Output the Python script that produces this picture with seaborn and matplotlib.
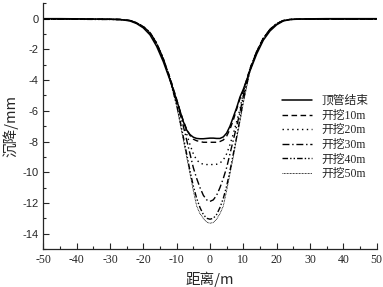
import matplotlib
matplotlib.use("Agg")
import matplotlib.pyplot as plt
import seaborn as sns
import numpy as np
from matplotlib.ticker import MultipleLocator

# distance from the pipe axis (m)
dist = [-50, -45, -40, -35, -30, -27, -24, -22, -20, -18, -16, -14, -12, -10,
        -9, -8, -7, -6, -5, -4, -3, -2, -1, 0, 1, 2, 3, 4, 5, 6, 7, 8, 9,
        10, 12, 14, 16, 18, 20, 22, 24, 27, 30, 35, 40, 45, 50]

# settlement (mm) for each stage
s_end = [0.0, 0.0, -0.01, -0.02, -0.03, -0.05, -0.15, -0.32, -0.6, -1.05, -1.8, -2.8, -4.0, -5.3,
         -6.0, -6.7, -7.25, -7.55, -7.72, -7.8, -7.82, -7.82, -7.8, -7.78, -7.78, -7.8, -7.8, -7.7, -7.45, -7.0, -6.4, -5.8, -5.1,
         -4.6, -3.4, -2.3, -1.4, -0.8, -0.4, -0.15, -0.06, -0.02, -0.01, 0.0, 0.0, 0.0, 0.0]
s_10 = [-0.02, -0.02, -0.02, -0.03, -0.04, -0.05, -0.12, -0.28, -0.55, -0.95, -1.65, -2.65, -3.85, -5.25,
        -6.0, -6.65, -7.2, -7.6, -7.85, -7.95, -8.0, -8.05, -8.05, -8.05, -8.05, -8.05, -8.0, -7.9, -7.65, -7.2, -6.6, -5.9, -5.2,
        -4.7, -3.25, -2.15, -1.28, -0.7, -0.33, -0.12, -0.05, -0.03, -0.02, -0.02, -0.02, -0.02, -0.02]
s_20 = [-0.03, -0.03, -0.03, -0.04, -0.05, -0.06, -0.12, -0.27, -0.52, -0.9, -1.6, -2.6, -3.85, -5.3,
        -6.0, -6.8, -7.5, -8.2, -8.8, -9.2, -9.4, -9.48, -9.5, -9.5, -9.5, -9.48, -9.4, -9.2, -8.8, -8.2, -7.5, -6.7, -5.9,
        -4.8, -3.25, -2.15, -1.28, -0.7, -0.33, -0.12, -0.05, -0.03, -0.03, -0.03, -0.03, -0.03, -0.03]
s_30 = [-0.03, -0.03, -0.03, -0.04, -0.05, -0.06, -0.12, -0.27, -0.52, -0.9, -1.6, -2.6, -3.9, -5.4,
        -6.2, -7.0, -7.9, -8.8, -9.7, -10.4, -11.0, -11.5, -11.8, -11.9, -11.8, -11.5, -11.0, -10.4, -9.7, -8.8, -7.9, -7.0, -6.1,
        -5.0, -3.3, -2.15, -1.28, -0.7, -0.33, -0.12, -0.05, -0.03, -0.03, -0.03, -0.03, -0.03, -0.03]
s_40 = [-0.04, -0.04, -0.04, -0.05, -0.05, -0.06, -0.12, -0.27, -0.52, -0.9, -1.6, -2.6, -3.95, -5.6,
        -6.6, -7.7, -8.8, -9.9, -10.9, -11.7, -12.3, -12.75, -13.0, -13.06, -13.0, -12.75, -12.3, -11.7, -10.9, -9.9, -8.8, -7.7, -6.5,
        -5.3, -3.35, -2.15, -1.28, -0.7, -0.33, -0.12, -0.05, -0.04, -0.04, -0.04, -0.04, -0.04, -0.04]
s_50 = [-0.05, -0.05, -0.05, -0.05, -0.06, -0.07, -0.12, -0.27, -0.52, -0.9, -1.6, -2.6, -4.0, -5.7,
        -6.8, -7.9, -9.0, -10.1, -11.2, -12.2, -12.7, -13.0, -13.25, -13.32, -13.28, -13.05, -12.7, -12.2, -11.2, -10.1, -9.0, -7.8, -6.7,
        -5.5, -3.4, -2.15, -1.28, -0.7, -0.33, -0.12, -0.05, -0.05, -0.05, -0.05, -0.05, -0.05, -0.05]

labels = ["顶管结束", "开挖10m", "开挖20m", "开挖30m", "开挖40m", "开挖50m"]
series = [s_end, s_10, s_20, s_30, s_40, s_50]
styles = [("-", 1.1), ((0, (4, 2.5)), 1.0), ((0, (1, 2.5)), 1.0),
          ((0, (5, 2, 1, 2)), 1.0), ((0, (4, 1.5, 1, 1.5, 1, 1.5)), 1.0), ((0, (1, 0.8)), 0.6)]

sns.set_style("ticks")
plt.rcParams["font.family"] = ["Liberation Serif", "Noto Sans CJK SC", "DejaVu Sans"]
plt.rcParams["axes.unicode_minus"] = False

fig = plt.figure(figsize=(3.83, 2.87), dpi=100)
ax = fig.add_axes([0.113, 0.1324, 0.8705, 0.8561])

for lab, vals, (ls, lw) in zip(labels, series, styles):
    sns.lineplot(x=np.array(dist), y=np.array(vals), ax=ax, color="black",
                 linestyle=ls, linewidth=lw, label=lab)

ax.set_xlim(-50, 50)
ax.set_ylim(-15, 1)
ax.xaxis.set_major_locator(MultipleLocator(10))
ax.xaxis.set_minor_locator(MultipleLocator(5))
ax.yaxis.set_major_locator(MultipleLocator(2))
ax.yaxis.set_minor_locator(MultipleLocator(1))
ax.set_yticks(range(-14, 1, 2))
ax.tick_params(which="major", direction="in", length=4, width=0.8, labelsize=8.5)
ax.tick_params(which="minor", direction="in", length=2, width=0.8)
for t in ax.get_yticklabels():
    t.set_family(["Liberation Sans", "DejaVu Sans"])
    t.set_fontsize(8)
sns.despine(ax=ax)
for sp in ("left", "bottom"):
    ax.spines[sp].set_linewidth(0.9)

ax.set_xlabel("距离/m", fontsize=10.5, family=["Noto Sans CJK SC", "DejaVu Sans"], labelpad=4)
ax.set_ylabel("沉降/mm", fontsize=10.5, family=["Noto Sans CJK SC", "DejaVu Sans"], labelpad=3)

leg = ax.legend(loc="upper left", bbox_to_anchor=(0.69, 0.66), frameon=False,
                handlelength=2.6, handletextpad=0.8, labelspacing=0.22,
                borderpad=0.2, prop={"family": ["Liberation Serif", "Noto Sans CJK SC"], "size": 8.5})

fig.savefig("out.png", dpi=100)
